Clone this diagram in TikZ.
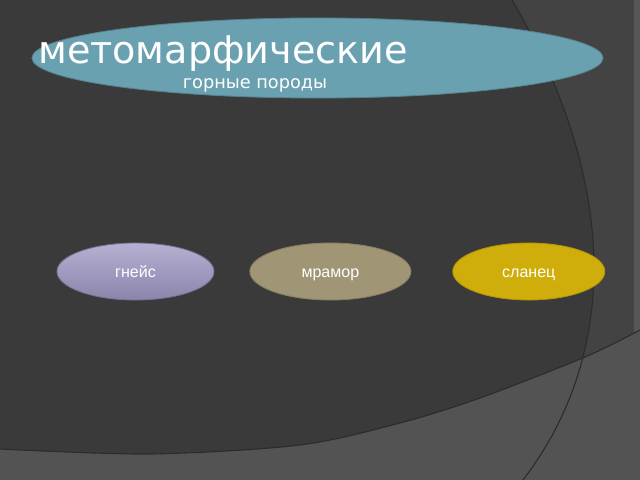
\documentclass[tikz,border=0pt]{standalone}
\usepackage{fontspec}
\setmainfont{DejaVu Sans}
\newfontfamily\rockfont{Liberation Sans}
\usetikzlibrary{shapes.geometric,positioning}
\definecolor{bgdark}{HTML}{3A3A3A}
\definecolor{bgright}{HTML}{434343}
\definecolor{bgbottom}{HTML}{535353}
\definecolor{edgegray}{HTML}{2C2C2C}
\definecolor{teal}{HTML}{6AA1B1}
\definecolor{gneisstop}{HTML}{B6B0D2}
\definecolor{gneissbottom}{HTML}{8B85AC}
\definecolor{marble}{HTML}{A09574}
\definecolor{slate}{HTML}{CFAE0B}

\begin{document}
\begin{tikzpicture}[x=0.025cm, y=-0.025cm,
  rock/.style={ellipse, minimum height=1.425cm, inner sep=0pt, text height=10pt, text depth=0.8pt, text=white, font=\rockfont\fontsize{11.4}{13}\selectfont, line width=0.6pt},
  edgeline/.style={draw=edgegray, line width=0.8pt}]
  \useasboundingbox (0,0) rectangle (640,480);
  \fill[bgdark] (0,0) rectangle (640,480);
  \fill[bgright] (512,0) .. controls (612,170) and (626,345) .. (523,480) -- (640,480) -- (640,0) -- cycle;
  \fill[bgright!90!white] (634,0) rectangle (640,335);
  \fill[bgbottom] plot[smooth] coordinates {(0,449) (150,454) (300,445) (400,423) (480,398) (585,357) (640,330)} -- (640,480) -- (0,480) -- cycle;
  \draw[edgeline] (512,0) .. controls (612,170) and (626,345) .. (523,480);
  \draw[edgeline] plot[smooth] coordinates {(0,449) (150,454) (300,445) (400,423) (480,398) (585,357) (640,330)};

  \node[ellipse, minimum width=14.275cm, minimum height=2cm, inner sep=0pt, fill=teal, draw=teal!80!black, line width=0.6pt] (title) at (317.5,58) {};
  \node[anchor=base west, inner sep=0pt, text=white, font=\fontsize{27.1}{30}\selectfont] (titletext) at (38,63) {метомарфические};
  \node[anchor=base, inner sep=0pt, text=white, font=\fontsize{12.6}{14}\selectfont] (subtitle) at (255,88) {горные породы};

  \node[rock, minimum width=3.925cm, top color=gneisstop, bottom color=gneissbottom, draw=gneissbottom!85!black] (gneiss) at (135.5,271.5) {гнейс};
  \node[rock, minimum width=4.025cm, fill=marble, draw=marble!85!black, right=0.875cm of gneiss] (marblestone) {мрамор};
  \node[rock, minimum width=3.8cm, fill=slate, draw=slate!85!black, right=1.025cm of marblestone] (slatestone) {сланец};
\end{tikzpicture}
\end{document}
